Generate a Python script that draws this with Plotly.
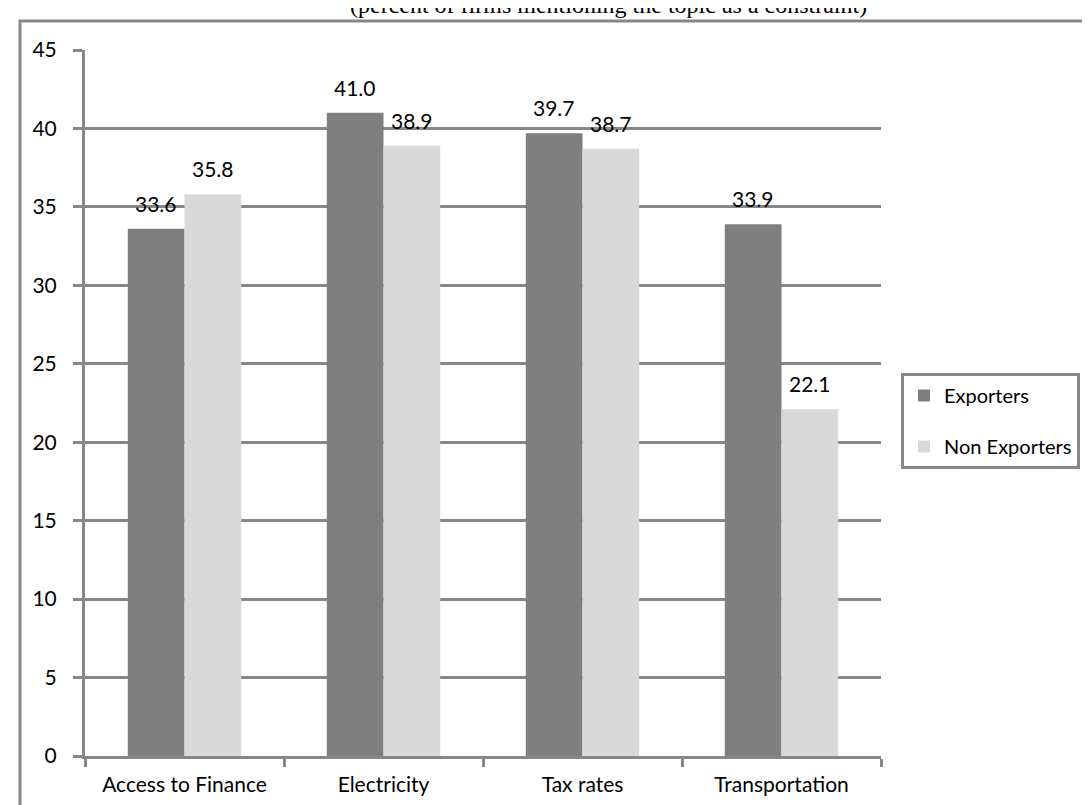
import plotly.graph_objects as go

categories = ["Access to Finance", "Electricity", "Tax rates", "Transportation"]
exporters = [33.6, 41.0, 39.7, 33.9]
non_exporters = [35.8, 38.9, 38.7, 22.1]
y_ticks = [0, 5, 10, 15, 20, 25, 30, 35, 40, 45]
title_text = "(percent of firms mentioning the topic as a constraint)"

FONT = "Lato"
GRID = "#878787"
W, H = 1090, 805
ML, MR, MT, MB = 77, 217, 42, 57
PW, PH = W - ML - MR, H - MT - MB

fig = go.Figure()
fig.add_trace(go.Bar(name="Exporters", x=categories, y=exporters,
                     marker=dict(color="#7f7f7f", line=dict(width=0)),
                     legendgroup="a"))
fig.add_trace(go.Bar(name="Non Exporters", x=categories, y=non_exporters,
                     marker=dict(color="#d9d9d9", line=dict(width=0)),
                     legendgroup="b"))

bw = PW / len(categories) * (1 - 0.43) / 2
for vals, sh in ((exporters, -bw / 2), (non_exporters, bw / 2)):
    for c, v in zip(categories, vals):
        fig.add_annotation(x=c, y=v, text=f"{v:.1f}", showarrow=False,
                           xshift=sh, yanchor="bottom", yshift=11,
                           font=dict(family=FONT, size=21, color="black"))

fig.add_annotation(xref="paper", yref="paper", x=(600 - ML) / PW,
                   y=(H - MB + 3) / PH, yanchor="middle", xanchor="center",
                   text=title_text, showarrow=False,
                   font=dict(family="Liberation Serif", size=24, color="black"))

# chart-area border (left and top visible)
fig.add_shape(type="rect", xref="paper", yref="paper",
              x0=(12 - ML) / PW, x1=(W + 20 - ML) / PW,
              y0=-(MB + 20) / PH, y1=(H - MB - 13) / PH,
              line=dict(color=GRID, width=3), fillcolor="rgba(0,0,0,0)")

fig.update_layout(
    width=W, height=H,
    margin=dict(l=ML, r=MR, t=MT, b=MB, autoexpand=False),
    barmode="group", bargap=0.43, bargroupgap=0,
    plot_bgcolor="white", paper_bgcolor="white",
    font=dict(family=FONT, size=21, color="black"),
    legend=dict(x=(893 - ML) / PW, y=(H - MB - 365) / PH,
                xanchor="left", yanchor="top",
                bordercolor=GRID, borderwidth=3, bgcolor="white",
                font=dict(family=FONT, size=20, color="black"),
                traceorder="grouped", tracegroupgap=22),
    xaxis=dict(showline=True, linecolor=GRID, linewidth=3,
               ticks="outside", tickson="boundaries", ticklen=8,
               tickwidth=3, tickcolor=GRID, showgrid=False,
               ticklabelstandoff=8,
               tickfont=dict(family=FONT, size=21, color="black")),
    yaxis=dict(range=[0, 45], tickvals=y_ticks, showline=True,
               linecolor=GRID, linewidth=3, ticks="outside", ticklen=9,
               tickwidth=3, tickcolor=GRID, showgrid=True,
               gridcolor=GRID, gridwidth=3, zeroline=False,
               ticklabelstandoff=12,
               tickfont=dict(family=FONT, size=21, color="black")),
)

fig.write_html("out.html")
